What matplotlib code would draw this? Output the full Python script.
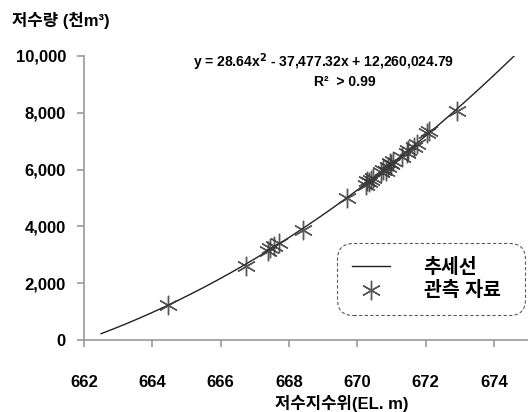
import numpy as np
import matplotlib
matplotlib.use("Agg")
import matplotlib.pyplot as plt

plt.rcParams['font.family'] = ['Liberation Sans', 'Noto Sans CJK KR', 'DejaVu Sans']
plt.rcParams['font.weight'] = 'bold'

level = [664.45, 666.75, 667.40, 667.45, 667.55, 667.70, 668.40, 669.70,
         670.25, 670.30, 670.35, 670.40, 670.45, 670.70, 670.75, 670.85,
         670.90, 670.95, 671.00, 671.05, 671.30, 671.45, 671.50, 671.65,
         671.75, 672.05, 672.10, 672.92]
storage = [1230, 2600, 3150, 3250, 3300, 3400, 3870, 5000,
           5450, 5600, 5550, 5650, 5700, 5900, 6000, 5950,
           6100, 6250, 6200, 6300, 6450, 6600, 6700, 6800,
           6900, 7300, 7350, 8080]

xticks = [662, 664, 666, 668, 670, 672, 674]
yticks = [0, 2000, 4000, 6000, 8000, 10000]
trend_range = (662.5, 675.0)

# quadratic trend line through the observations
coef = np.polyfit(level, storage, 2)
xs = np.linspace(trend_range[0], trend_range[1], 200)
ys = np.polyval(coef, xs)

fig = plt.figure(figsize=(5.28, 4.12), dpi=100)
ax = fig.add_axes([84 / 528, 72 / 412, 444 / 528, 284 / 412])

ax.plot(xs, ys, color='#222222', lw=1.0, label='추세선')
ax.plot(level, storage, ls='none', marker=(6, 2, 0), ms=14, mew=1.0,
        color='#3a3a3a', alpha=0.85, label='관측 자료')

ax.set_xlim(662, 675)
ax.set_ylim(0, 10000)
ax.set_xticks(xticks)
ax.set_yticks(yticks)
ax.set_yticklabels([f'{v:,}' for v in yticks])

for s in ['top', 'right']:
    ax.spines[s].set_visible(False)
for s in ['left', 'bottom']:
    ax.spines[s].set_color('#999999')
    ax.spines[s].set_linewidth(1.2)
ax.tick_params(axis='both', colors='#999999', length=5, width=1.2,
               labelcolor='black', labelsize=12)
ax.tick_params(axis='x', pad=20)
ax.tick_params(axis='y', pad=8)

fig.text(12 / 528, 1 - 20 / 412, '저수량 (천m³)', fontsize=12, fontweight='bold',
         va='center', ha='left')
fig.text(342 / 528, 1 - 403 / 412, '저수지수위(EL. m)', fontsize=12, fontweight='bold',
         va='center', ha='center')

fig.text(324 / 528, 1 - 62 / 412, 'y = 28.64x$^2$ - 37,477.32x + 12,260,024.79',
         fontsize=10, fontweight='bold', ha='center', va='center')
fig.text(345 / 528, 1 - 82 / 412, 'R²  > 0.99', fontsize=10, fontweight='bold',
         ha='center', va='center')

leg = ax.legend(loc='upper left',
                bbox_to_anchor=(337 / 528, 1 - 315 / 412, 188 / 528, 72 / 412),
                bbox_transform=fig.transFigure, mode='expand', fancybox=True,
                frameon=True, fontsize=14, handlelength=2.0, borderpad=0.75,
                labelspacing=0.25, handletextpad=1.7, borderaxespad=0)
fr = leg.get_frame()
fr.set_boxstyle('round', pad=0, rounding_size=0.8)
fr.set_linestyle((0, (3, 2)))
fr.set_edgecolor('#333333')
fr.set_linewidth(0.8)
for t in leg.get_texts():
    t.set_fontweight('bold')

fig.savefig('out.png', dpi=100)
